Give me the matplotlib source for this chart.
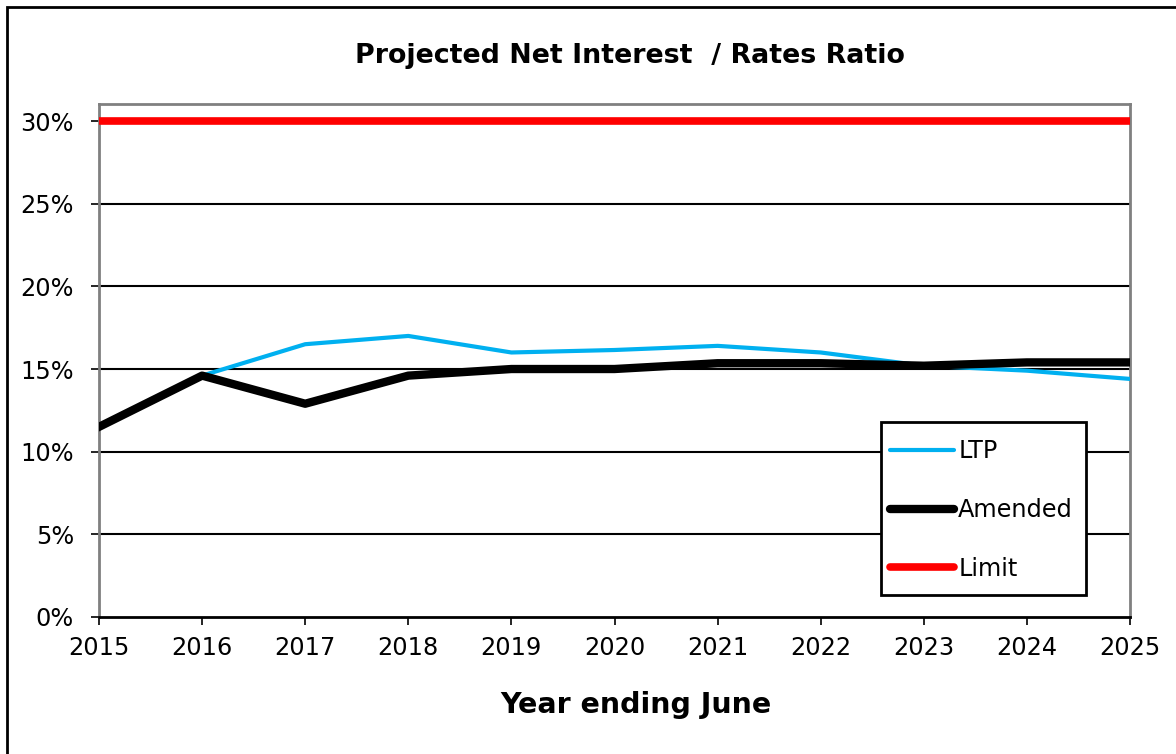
import matplotlib
matplotlib.use("Agg")
import matplotlib.pyplot as plt
from matplotlib.patches import Rectangle
from matplotlib.ticker import PercentFormatter

plt.rcParams['font.family'] = ['DejaVu Sans']

years = [2015, 2016, 2017, 2018, 2019, 2020, 2021, 2022, 2023, 2024, 2025]
ltp = [11.5, 14.6, 16.5, 17.0, 16.0, 16.15, 16.4, 16.0, 15.2, 14.9, 14.4]
amended = [11.5, 14.6, 12.9, 14.6, 15.0, 15.0, 15.35, 15.35, 15.2, 15.4, 15.4]
limit = [30.0] * len(years)
y_ticks = [0, 5, 10, 15, 20, 25, 30]

W, H = 1176, 754
fig = plt.figure(figsize=(W / 100, H / 100), dpi=100)
ax = fig.add_axes([99 / W, 1 - 617 / H, (1130 - 99) / W, (617 - 104) / H])

# outer chart frame (left and top edges visible)
fig.add_artist(Rectangle((7 / W, -0.01), 1.2, 1 - 7 / H + 0.01,
                         transform=fig.transFigure, fill=False,
                         edgecolor='black', linewidth=2))

for v in y_ticks[1:-1]:
    ax.axhline(v, color='black', linewidth=1.5, zorder=1)

ax.plot(years, ltp, color='#00B0F0', linewidth=3, label='LTP', zorder=3)
ax.plot(years, amended, color='black', linewidth=6, label='Amended', zorder=4)
ax.plot(years, limit, color='#FF0000', linewidth=5.5, label='Limit', zorder=4,
        solid_capstyle='butt')

ax.set_xlim(2015, 2025)
ax.set_ylim(0, 31.03)
ax.set_xticks(years)
ax.set_xticklabels([str(y) for y in years])
ax.set_yticks(y_ticks)
ax.yaxis.set_major_formatter(PercentFormatter(decimals=0))
ax.tick_params(axis='both', labelsize=17.3, length=6, width=1.2, color='black')
ax.tick_params(axis='x', pad=8)
ax.tick_params(axis='y', pad=12)

for side in ['top', 'right', 'left']:
    ax.spines[side].set_color('#808080')
    ax.spines[side].set_linewidth(2)
ax.spines['bottom'].set_color('black')
ax.spines['bottom'].set_linewidth(2)

fig.text(630 / W, 1 - 56 / H, 'Projected Net Interest  / Rates Ratio',
         ha='center', va='center', fontsize=19.4, fontweight='bold')
fig.text(636 / W, 1 - 705 / H, 'Year ending June',
         ha='center', va='center', fontsize=20.5, fontweight='bold')

# legend box drawn as its own white rectangle, entries placed inside it
box = Rectangle((881 / W, 1 - 595 / H), (1086 - 881) / W, (595 - 422) / H,
                transform=fig.transFigure, facecolor='white',
                edgecolor='black', linewidth=2, zorder=5, clip_on=False)
ax.add_artist(box)

leg = ax.legend(loc='upper left', bbox_to_anchor=(883 / W, 1 - 432 / H),
                bbox_transform=fig.transFigure, frameon=False, fontsize=17.3,
                handlelength=2.67, handletextpad=0.16, labelspacing=1.45,
                borderaxespad=0, borderpad=0.3)
leg.set_zorder(6)
for h in leg.get_lines():
    h.set_solid_capstyle('round')

fig.savefig('out.png', dpi=100, facecolor='white')
